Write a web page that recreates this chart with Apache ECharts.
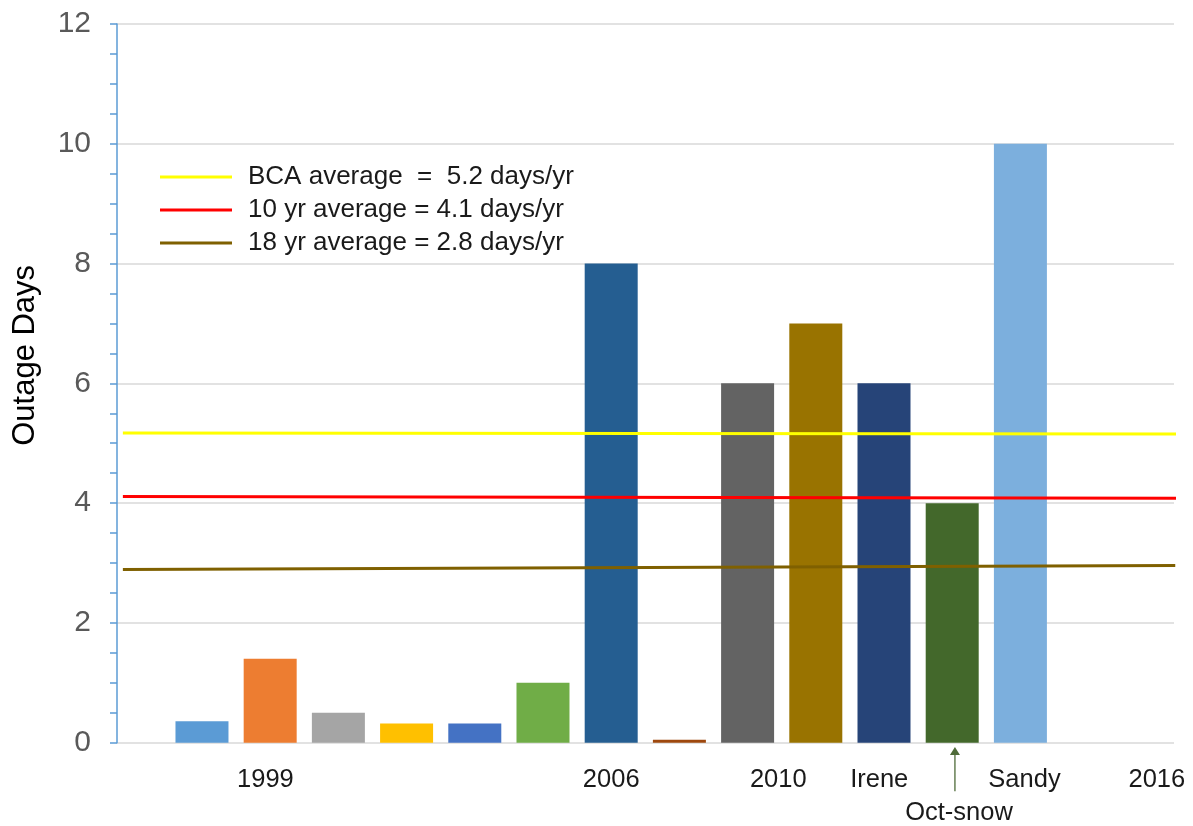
<!DOCTYPE html>
<html>
<head>
<meta charset="utf-8">
<title>Outage Days</title>
<script src="https://cdn.jsdelivr.net/npm/echarts@6.0.0/dist/echarts.min.js"></script>
<style>
  html, body { margin: 0; padding: 0; background: #fff; }
  #chart { width: 1193px; height: 826px; }
</style>
</head>
<body>
<div id="chart"></div>
<script>
// bar positions along the x scale (one per event/year) and their values
const barPos = [1, 2, 3, 4, 5, 6, 7, 8, 9, 10, 11, 12, 13]
const outageDays = [0.36, 1.4, 0.5, 0.32, 0.32, 1.0, 8, 0.05, 6, 7, 6, 4, 10]

// x axis labels, placed where the original text sits
const tickPos = [1.93, 7, 9.45, 10.93, 12.1, 13.06, 15]
const tickLabels = ['1999', '2006', '2010', 'Irene', '\nOct-snow', 'Sandy', '2016']

// the three reference averages, drawn across the whole chart
const bcaAvg = [[-0.16, 5.17], [15.33, 5.155]]
const avg10yr = [[-0.16, 4.11], [15.33, 4.08]]
const avg18yr = [[-0.16, 2.89], [15.27, 2.96]]

// arrow for the Oct-snow storm (tail, head)
const octSnowArrow = [[12.04, -0.81], [12.04, -0.14]]

const barColors = [
  '#5B9BD5', '#ED7D31', '#A5A5A5', '#FFC000', '#4472C4', '#70AD47',
  '#255E91', '#9E480E', '#636363', '#997300', '#264478', '#43682B', '#7CAFDD'
]

const font = '"Liberation Sans", Arial, sans-serif'
const myChart = echarts.init(document.getElementById('chart'), null, { renderer: 'canvas' })

const option = {
  backgroundColor: '#fff',
  animation: false,
  textStyle: { fontFamily: font },
  grid: { left: 117, right: 19, top: 24, bottom: 83.3, containLabel: false, outerBoundsMode: 'none' },
  legend: {
    orient: 'vertical',
    left: 155,
    top: 158,
    icon: 'rect',
    itemWidth: 72,
    itemHeight: 3,
    itemGap: 5,
    selectedMode: false,
    textStyle: { fontSize: 26, color: '#1a1a1a', lineHeight: 28, padding: [0, 0, 0, 11] },
    data: ['BCA average  =  5.2 days/yr', '10 yr average = 4.1 days/yr', '18 yr average = 2.8 days/yr']
  },
  xAxis: {
    type: 'value',
    min: -0.246,
    max: 15.252,
    splitLine: { show: false },
    axisLine: { show: false },
    axisTick: { show: false },
    axisLabel: {
      customValues: tickPos,
      margin: 21,
      fontSize: 25.5,
      lineHeight: 33,
      color: '#1a1a1a',
      formatter: (value) => {
        const i = tickPos.indexOf(value)
        return i >= 0 ? tickLabels[i] : ''
      }
    }
  },
  yAxis: {
    type: 'value',
    min: 0,
    max: 12,
    interval: 2,
    name: 'Outage Days',
    nameLocation: 'middle',
    nameRotate: 90,
    nameGap: 76,
    nameTextStyle: { fontSize: 31, color: '#000', padding: [0, 0, 0, 56] },
    axisLine: { show: true, onZero: false, lineStyle: { color: '#5B9BD5', width: 1.5 } },
    axisTick: { show: true, length: 7, lineStyle: { color: '#5B9BD5', width: 1.5 } },
    minorTick: { show: true, splitNumber: 4, length: 7, lineStyle: { color: '#5B9BD5', width: 1.5 } },
    axisLabel: { fontSize: 30, color: '#595959', margin: 26 },
    splitLine: { show: true, lineStyle: { color: '#D9D9D9', width: 1.5 } }
  },
  series: [
    {
      name: 'Outage',
      type: 'bar',
      barWidth: 53,
      data: barPos.map((x, i) => ({ value: [x, outageDays[i]], itemStyle: { color: barColors[i] } }))
    },
    {
      name: 'BCA average  =  5.2 days/yr',
      type: 'line',
      clip: false,
      symbol: 'none',
      lineStyle: { color: '#FFFF00', width: 3 },
      itemStyle: { color: '#FFFF00' },
      data: bcaAvg
    },
    {
      name: '10 yr average = 4.1 days/yr',
      type: 'line',
      clip: false,
      symbol: 'none',
      lineStyle: { color: '#FF0000', width: 3 },
      itemStyle: { color: '#FF0000' },
      data: avg10yr
    },
    {
      name: '18 yr average = 2.8 days/yr',
      type: 'line',
      clip: false,
      symbol: 'none',
      lineStyle: { color: '#7F6000', width: 3 },
      itemStyle: { color: '#7F6000' },
      data: avg18yr
    },
    {
      name: 'Oct-snow arrow',
      type: 'line',
      clip: false,
      silent: true,
      symbol: (value, params) => (params.dataIndex === 1 ? 'triangle' : 'none'),
      symbolSize: [10, 8],
      lineStyle: { color: '#4E6B38', width: 1.3 },
      itemStyle: { color: '#4E6B38' },
      data: octSnowArrow
    }
  ]
}

myChart.setOption(option)
</script>
</body>
</html>
